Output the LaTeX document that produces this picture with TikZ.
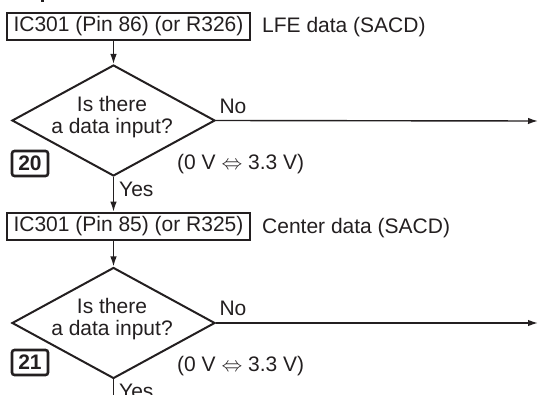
\documentclass[tikz,border=0pt]{standalone}
\usepackage{fontspec}
\setmainfont{Liberation Sans}
\usetikzlibrary{shapes.geometric,arrows.meta}
\definecolor{ink}{HTML}{231F20}
\tikzset{
  txt/.style={font=\fontsize{21}{25}\selectfont, text=ink, inner sep=0pt},
  pinbox/.style={draw=ink, line width=2.6pt, minimum width=243pt, minimum height=27pt, inner sep=0pt, font=\fontsize{21}{25}\selectfont, text=ink},
  numbox/.style={draw=ink, line width=2.6pt, rounded corners=2.5pt, minimum width=36pt, minimum height=25pt, inner sep=0pt, font=\fontsize{21}{25}\selectfont\bfseries, text=ink},
  decide/.style={draw=ink, line width=2pt, diamond, minimum width=203pt, minimum height=111pt, inner sep=0pt, aspect=1.83},
  conn/.style={draw=ink, line width=1.4pt},
  arr/.style={conn, -{Latex[length=10pt,width=6.5pt]}}
}
\begin{document}
\begin{tikzpicture}[x=1pt,y=-1pt]
\useasboundingbox (0,0) rectangle (539,395);
\clip (0,0) rectangle (539,395);
% fragment at top edge
\fill[ink] (41,-1) rectangle (43.5,2.5);

% step 20
\node[pinbox] (b1) at (128.5,26.5) {IC301 (Pin 86) (or R326)};
\node[txt, anchor=west] (l1) at (262,27) {LFE data (SACD)};
\node[decide] (d1) at (113.5,120.5) {};
\node[txt, align=center] (q1) at (112,117) {Is there\\[-3pt]a data input?};
\node[txt] (n1) at (233,106) {No};
\node[numbox] (s1) at (30,163.5) {20};
\node[txt, anchor=west] (v1) at (177,164) {(0 V $\Leftrightarrow$ 3.3 V)};
\node[txt, anchor=west] (y1) at (119,189) {Yes};
\coordinate (e1) at (538,121);

% step 21
\node[pinbox] (b2) at (128.5,226.5) {IC301 (Pin 85) (or R325)};
\node[txt, anchor=west] (l2) at (262,228) {Center data (SACD)};
\node[decide] (d2) at (113.5,323) {};
\node[txt, align=center] (q2) at (112,319.5) {Is there\\[-3pt]a data input?};
\node[txt] (n2) at (233,308) {No};
\node[numbox] (s2) at (30,362.5) {21};
\node[txt, anchor=west] (v2) at (177,366) {(0 V $\Leftrightarrow$ 3.3 V)};
\node[txt, anchor=west] (y2) at (119,391) {Yes};
\coordinate (e2) at (538,323);
\coordinate (end2) at (113.5,400);

% connectors
\draw[arr] (d1.north |- b1.south) -- (d1.north);
\draw[arr] (d1.east) -- (e1);
\draw[arr] (d1.south) -- (d1.south |- b2.north);
\draw[arr] (d2.north |- b2.south) -- (d2.north);
\draw[arr] (d2.east) -- (e2);
\draw[conn] (d2.south) -- (end2);
\end{tikzpicture}
\end{document}
